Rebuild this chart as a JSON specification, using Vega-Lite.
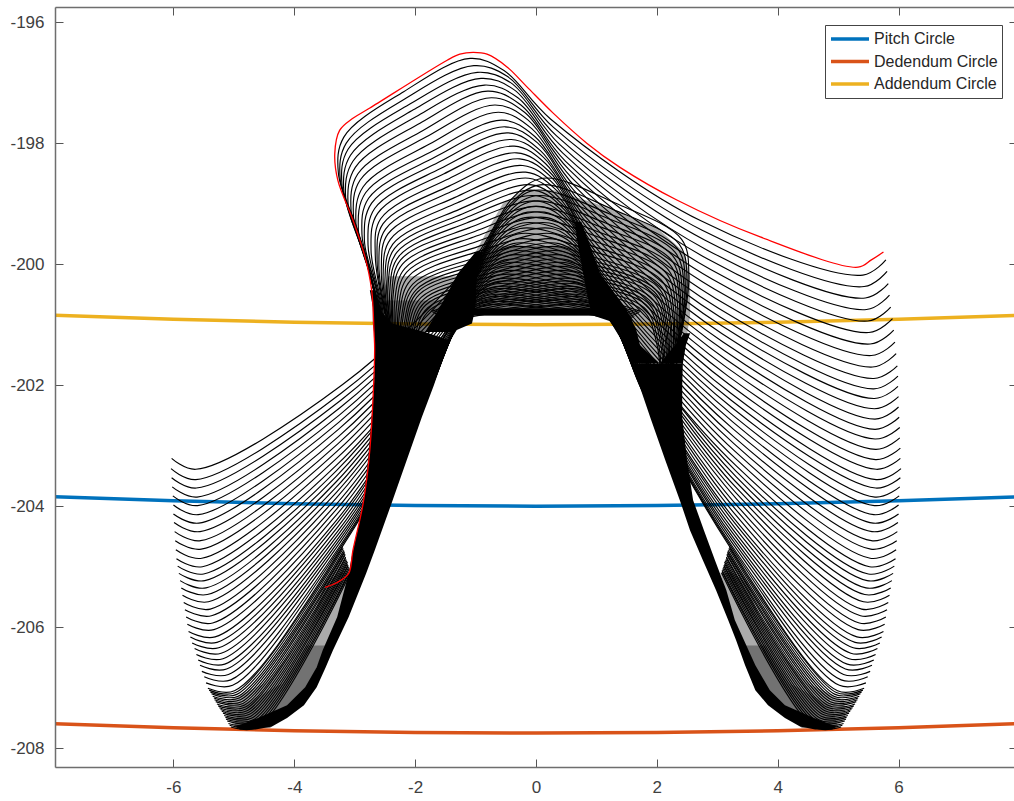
{"$schema":"https://vega.github.io/schema/vega-lite/v6.json","width":962,"height":760,"autosize":{"type":"none"},"padding":{"left":55,"top":7,"right":0,"bottom":34},"background":"white",
"datasets":{
"circles":[
{"s":"Pitch Circle","x":-7.96,"y":-203.845},{"s":"Pitch Circle","x":-6,"y":-203.91},{"s":"Pitch Circle","x":-4,"y":-203.96},{"s":"Pitch Circle","x":-2,"y":-203.99},{"s":"Pitch Circle","x":0,"y":-204},{"s":"Pitch Circle","x":2,"y":-203.99},{"s":"Pitch Circle","x":4,"y":-203.96},{"s":"Pitch Circle","x":6,"y":-203.91},{"s":"Pitch Circle","x":7.96,"y":-203.845},
{"s":"Dedendum Circle","x":-7.96,"y":-207.595},{"s":"Dedendum Circle","x":-6,"y":-207.66},{"s":"Dedendum Circle","x":-4,"y":-207.71},{"s":"Dedendum Circle","x":-2,"y":-207.74},{"s":"Dedendum Circle","x":0,"y":-207.75},{"s":"Dedendum Circle","x":2,"y":-207.74},{"s":"Dedendum Circle","x":4,"y":-207.71},{"s":"Dedendum Circle","x":6,"y":-207.66},{"s":"Dedendum Circle","x":7.96,"y":-207.595},
{"s":"Addendum Circle","x":-7.96,"y":-200.845},{"s":"Addendum Circle","x":-6,"y":-200.91},{"s":"Addendum Circle","x":-4,"y":-200.96},{"s":"Addendum Circle","x":-2,"y":-200.99},{"s":"Addendum Circle","x":0,"y":-201},{"s":"Addendum Circle","x":2,"y":-200.99},{"s":"Addendum Circle","x":4,"y":-200.96},{"s":"Addendum Circle","x":6,"y":-200.91},{"s":"Addendum Circle","x":7.96,"y":-200.845}],
"red":[{"x":5.75,"y":-199.8},{"x":5.55,"y":-199.93},{"x":5.33,"y":-200.05},{"x":3.71,"y":-199.55},{"x":2.33,"y":-198.94},{"x":1.39,"y":-198.4},{"x":0.84,"y":-198.0},{"x":0.28,"y":-197.5},{"x":-0.15,"y":-197.07},{"x":-0.48,"y":-196.74},{"x":-0.81,"y":-196.53},{"x":-1.04,"y":-196.5},{"x":-1.26,"y":-196.53},{"x":-1.47,"y":-196.63},{"x":-2.75,"y":-197.42},{"x":-3.03,"y":-197.59},{"x":-3.25,"y":-197.79},{"x":-3.33,"y":-198.17},{"x":-3.28,"y":-198.61},{"x":-3.03,"y":-199.27},{"x":-2.83,"y":-199.88},{"x":-2.72,"y":-200.43},{"x":-2.68,"y":-201.14},{"x":-2.67,"y":-201.42},{"x":-2.75,"y":-203.07},{"x":-2.86,"y":-203.95},{"x":-3.03,"y":-204.73},{"x":-3.1,"y":-205.11},{"x":-3.29,"y":-205.26},{"x":-3.49,"y":-205.34}],
"grey":[
{"g":"GL","y":-205.1,"x":-3.25,"x1":-3.05},{"g":"GL","y":-205.27,"x":-3.49,"x1":-3.1},{"g":"GL","y":-205.83,"x":-3.69,"x1":-3.25},{"g":"GL","y":-206.38,"x":-4.02,"x1":-3.5},{"g":"GL","y":-206.93,"x":-4.5,"x1":-3.75},{"g":"GL","y":-207.21,"x":-5.1,"x1":-4.0},{"g":"GL","y":-207.49,"x":-5.12,"x1":-4.2},{"g":"GL","y":-207.66,"x":-4.97,"x1":-4.4},
{"g":"GL2","y":-206.3,"x":-3.8,"x1":-3.45},{"g":"GL2","y":-206.93,"x":-4.2,"x1":-3.7},{"g":"GL2","y":-207.3,"x":-4.9,"x1":-3.95},{"g":"GL2","y":-207.66,"x":-5.0,"x1":-4.4},
{"g":"GR","y":-205.1,"x":3.05,"x1":3.25},{"g":"GR","y":-205.27,"x":3.1,"x1":3.49},{"g":"GR","y":-205.83,"x":3.25,"x1":3.69},{"g":"GR","y":-206.38,"x":3.5,"x1":4.02},{"g":"GR","y":-206.93,"x":3.75,"x1":4.5},{"g":"GR","y":-207.21,"x":4.0,"x1":5.1},{"g":"GR","y":-207.49,"x":4.2,"x1":5.12},{"g":"GR","y":-207.66,"x":4.4,"x1":4.97},
{"g":"GR2","y":-206.3,"x":3.45,"x1":3.8},{"g":"GR2","y":-206.93,"x":3.7,"x1":4.2},{"g":"GR2","y":-207.3,"x":3.95,"x1":4.9},{"g":"GR2","y":-207.66,"x":4.4,"x1":5.0},
{"g":"GD","y":-198.78,"x":-0.2,"x1":0.3},{"g":"GD","y":-199,"x":-0.55,"x1":1.0},{"g":"GD","y":-199.4,"x":-0.78,"x1":2.0},{"g":"GD","y":-199.8,"x":-1.0,"x1":2.45},{"g":"GD","y":-200.2,"x":-1.2,"x1":2.55},{"g":"GD","y":-200.85,"x":-1.34,"x1":2.55},
{"g":"GD2","y":-199.7,"x":-0.85,"x1":0.7},{"g":"GD2","y":-200.2,"x":-1.2,"x1":1.0},{"g":"GD2","y":-200.85,"x":-1.34,"x1":1.34},
{"g":"GP","y":-200.85,"x":1.34,"x1":2.55},{"g":"GP","y":-201.3,"x":1.6,"x1":2.48},{"g":"GP","y":-201.64,"x":2.05,"x1":2.43},
{"g":"GT","y":-200.2,"x":-2.45,"x1":-1.25},{"g":"GT","y":-200.7,"x":-2.6,"x1":-1.55},{"g":"GT","y":-201.12,"x":-2.68,"x1":-1.84},
{"g":"GT2","y":-200.6,"x":-2.55,"x1":-1.5},{"g":"GT2","y":-201.12,"x":-2.68,"x1":-1.84}],
"bands":[
{"g":"cap","y":-200.73,"x":-1.34,"x1":1.34},{"g":"cap","y":-200.85,"x":-1.34,"x1":1.34},
{"g":"L1","y":-200.43,"x":-2.75,"x1":-2.68},{"g":"L1","y":-200.71,"x":-2.7,"x1":-2.62},{"g":"L1","y":-200.98,"x":-2.7,"x1":-2.38},{"g":"L1","y":-201.12,"x":-2.68,"x1":-1.84},{"g":"L1","y":-201.26,"x":-2.68,"x1":-1.42},{"g":"L1","y":-201.42,"x":-2.67,"x1":-1.49},{"g":"L1","y":-202,"x":-2.68,"x1":-1.69},{"g":"L1","y":-202.53,"x":-2.72,"x1":-1.89},{"g":"L1","y":-203.24,"x":-2.78,"x1":-2.14},{"g":"L1","y":-203.98,"x":-2.86,"x1":-2.4},{"g":"L1","y":-204.73,"x":-3.03,"x1":-2.67},{"g":"L1","y":-205.11,"x":-3.1,"x1":-2.81},{"g":"L1","y":-205.83,"x":-3.29,"x1":-3.1},{"g":"L1","y":-206.38,"x":-3.53,"x1":-3.36},{"g":"L1","y":-206.66,"x":-3.63,"x1":-3.48},{"g":"L1","y":-206.99,"x":-3.82,"x1":-3.63},{"g":"L1","y":-207.29,"x":-4.12,"x1":-3.84},{"g":"L1","y":-207.5,"x":-4.6,"x1":-4.12},{"g":"L1","y":-207.64,"x":-4.97,"x1":-4.37},{"g":"L1","y":-207.69,"x":-4.9,"x1":-4.64},
{"g":"L2","y":-199.8,"x":-1.0,"x1":-0.88},{"g":"L2","y":-200.15,"x":-1.29,"x1":-0.98},{"g":"L2","y":-200.71,"x":-1.59,"x1":-1.0},{"g":"L2","y":-200.98,"x":-1.75,"x1":-1.06},{"g":"L2","y":-201.12,"x":-1.84,"x1":-1.39},
{"g":"R1","y":-199.3,"x":0.65,"x1":0.75},{"g":"R1","y":-199.6,"x":0.68,"x1":0.86},{"g":"R1","y":-200.15,"x":0.78,"x1":1.06},{"g":"R1","y":-200.71,"x":0.89,"x1":1.47},{"g":"R1","y":-200.86,"x":0.98,"x1":1.56},{"g":"R1","y":-200.98,"x":1.34,"x1":1.61},{"g":"R1","y":-201.09,"x":1.39,"x1":1.66},{"g":"R1","y":-201.34,"x":1.47,"x1":1.72},{"g":"R1","y":-201.64,"x":1.57,"x1":2.05},
{"g":"R3","y":-201.14,"x":2.45,"x1":2.55},{"g":"R3","y":-201.34,"x":2.3,"x1":2.48},{"g":"R3","y":-201.64,"x":2.05,"x1":2.43},
{"g":"R","y":-201.64,"x":1.57,"x1":2.43},{"g":"R","y":-202,"x":1.71,"x1":2.42},{"g":"R","y":-202.53,"x":1.89,"x1":2.42},{"g":"R","y":-203.24,"x":2.14,"x1":2.5},{"g":"R","y":-203.9,"x":2.38,"x1":2.6},{"g":"R","y":-204.4,"x":2.55,"x1":2.78},{"g":"R","y":-204.89,"x":2.76,"x1":2.96},{"g":"R","y":-205.39,"x":2.98,"x1":3.15},{"g":"R","y":-205.88,"x":3.18,"x1":3.29},{"g":"R","y":-206.21,"x":3.31,"x1":3.44},{"g":"R","y":-206.63,"x":3.46,"x1":3.63},{"g":"R","y":-207.04,"x":3.63,"x1":3.87},{"g":"R","y":-207.29,"x":3.84,"x1":4.12},{"g":"R","y":-207.5,"x":4.12,"x1":4.6},{"g":"R","y":-207.64,"x":4.37,"x1":4.97},{"g":"R","y":-207.69,"x":4.62,"x1":4.9}],
"curves":[
{"c":59,"x":5.79,"y":-199.93},{"c":59,"x":5.41,"y":-200.18},{"c":59,"x":2.72,"y":-199.28},{"c":59,"x":0.24,"y":-197.6},{"c":59,"x":-0.53,"y":-196.8},{"c":59,"x":-1.09,"y":-196.6},{"c":59,"x":-2.19,"y":-197.15},{"c":59,"x":-3.18,"y":-197.9},{"c":59,"x":-3.27,"y":-198.5},{"c":59,"x":-2.95,"y":-199.44},{"c":59,"x":-2.56,"y":-200.81},
{"c":58,"x":5.81,"y":-200.12},{"c":58,"x":5.43,"y":-200.37},{"c":58,"x":2.75,"y":-199.44},{"c":58,"x":0.29,"y":-197.74},{"c":58,"x":-0.47,"y":-196.9},{"c":58,"x":-1.03,"y":-196.72},{"c":58,"x":-2.14,"y":-197.25},{"c":58,"x":-3.14,"y":-198.0},{"c":58,"x":-3.24,"y":-198.6},{"c":58,"x":-2.92,"y":-199.55},{"c":58,"x":-2.54,"y":-200.92},
{"c":57,"x":5.83,"y":-200.32},{"c":57,"x":5.45,"y":-200.56},{"c":57,"x":2.79,"y":-199.6},{"c":57,"x":0.34,"y":-197.88},{"c":57,"x":-0.42,"y":-197.0},{"c":57,"x":-0.97,"y":-196.83},{"c":57,"x":-2.08,"y":-197.35},{"c":57,"x":-3.11,"y":-198.1},{"c":57,"x":-3.21,"y":-198.7},{"c":57,"x":-2.89,"y":-199.65},{"c":57,"x":-2.53,"y":-201.03},
{"c":56,"x":5.85,"y":-200.51},{"c":56,"x":5.47,"y":-200.75},{"c":56,"x":2.82,"y":-199.76},{"c":56,"x":0.39,"y":-198.02},{"c":56,"x":-0.36,"y":-197.12},{"c":56,"x":-0.91,"y":-196.93},{"c":56,"x":-2.03,"y":-197.45},{"c":56,"x":-3.07,"y":-198.2},{"c":56,"x":-3.18,"y":-198.8},{"c":56,"x":-2.86,"y":-199.76},{"c":56,"x":-2.51,"y":-201.14},
{"c":55,"x":5.87,"y":-200.71},{"c":55,"x":5.49,"y":-200.94},{"c":55,"x":2.85,"y":-199.92},{"c":55,"x":0.44,"y":-198.16},{"c":55,"x":-0.3,"y":-197.25},{"c":55,"x":-0.85,"y":-197.04},{"c":55,"x":-1.98,"y":-197.56},{"c":55,"x":-3.03,"y":-198.3},{"c":55,"x":-3.15,"y":-198.9},{"c":55,"x":-2.83,"y":-199.87},{"c":55,"x":-2.49,"y":-201.25},
{"c":54,"x":5.9,"y":-200.9},{"c":54,"x":5.51,"y":-201.13},{"c":54,"x":2.89,"y":-200.09},{"c":54,"x":0.49,"y":-198.3},{"c":54,"x":-0.25,"y":-197.37},{"c":54,"x":-0.8,"y":-197.14},{"c":54,"x":-1.92,"y":-197.67},{"c":54,"x":-2.99,"y":-198.4},{"c":54,"x":-3.11,"y":-199.01},{"c":54,"x":-2.8,"y":-199.98},{"c":54,"x":-2.48,"y":-201.37},
{"c":53,"x":5.92,"y":-201.09},{"c":53,"x":5.53,"y":-201.32},{"c":53,"x":2.92,"y":-200.25},{"c":53,"x":0.54,"y":-198.43},{"c":53,"x":-0.19,"y":-197.49},{"c":53,"x":-0.74,"y":-197.25},{"c":53,"x":-1.87,"y":-197.79},{"c":53,"x":-2.95,"y":-198.51},{"c":53,"x":-3.06,"y":-199.12},{"c":53,"x":-2.77,"y":-200.08},{"c":53,"x":-2.46,"y":-201.48},
{"c":52,"x":5.94,"y":-201.29},{"c":52,"x":5.55,"y":-201.51},{"c":52,"x":2.95,"y":-200.41},{"c":52,"x":0.59,"y":-198.57},{"c":52,"x":-0.13,"y":-197.62},{"c":52,"x":-0.68,"y":-197.37},{"c":52,"x":-1.82,"y":-197.9},{"c":52,"x":-2.91,"y":-198.61},{"c":52,"x":-3.02,"y":-199.22},{"c":52,"x":-2.74,"y":-200.19},{"c":52,"x":-2.44,"y":-201.59},
{"c":51,"x":5.96,"y":-201.48},{"c":51,"x":5.57,"y":-201.7},{"c":51,"x":2.98,"y":-200.57},{"c":51,"x":0.64,"y":-198.71},{"c":51,"x":-0.07,"y":-197.76},{"c":51,"x":-0.62,"y":-197.49},{"c":51,"x":-1.77,"y":-198.02},{"c":51,"x":-2.86,"y":-198.72},{"c":51,"x":-2.98,"y":-199.33},{"c":51,"x":-2.71,"y":-200.3},{"c":51,"x":-2.42,"y":-201.7},
{"c":50,"x":5.98,"y":-201.68},{"c":50,"x":5.59,"y":-201.89},{"c":50,"x":3.02,"y":-200.73},{"c":50,"x":0.69,"y":-198.85},{"c":50,"x":-0.02,"y":-197.89},{"c":50,"x":-0.56,"y":-197.62},{"c":50,"x":-1.71,"y":-198.13},{"c":50,"x":-2.82,"y":-198.82},{"c":50,"x":-2.94,"y":-199.43},{"c":50,"x":-2.68,"y":-200.4},{"c":50,"x":-2.41,"y":-201.81},
{"c":49,"x":5.99,"y":-201.85},{"c":49,"x":5.59,"y":-202.06},{"c":49,"x":3.04,"y":-200.87},{"c":49,"x":0.73,"y":-198.97},{"c":49,"x":0.03,"y":-198},{"c":49,"x":-0.51,"y":-197.73},{"c":49,"x":-1.67,"y":-198.23},{"c":49,"x":-2.77,"y":-198.91},{"c":49,"x":-2.88,"y":-199.51},{"c":49,"x":-2.63,"y":-200.49},{"c":49,"x":-2.4,"y":-201.9},
{"c":48,"x":5.99,"y":-202.02},{"c":48,"x":5.6,"y":-202.22},{"c":48,"x":3.06,"y":-201.01},{"c":48,"x":0.77,"y":-199.09},{"c":48,"x":0.07,"y":-198.12},{"c":48,"x":-0.46,"y":-197.83},{"c":48,"x":-1.62,"y":-198.32},{"c":48,"x":-2.72,"y":-198.99},{"c":48,"x":-2.84,"y":-199.6},{"c":48,"x":-2.6,"y":-200.57},{"c":48,"x":-2.39,"y":-201.98},
{"c":47,"x":6,"y":-202.19},{"c":47,"x":5.6,"y":-202.39},{"c":47,"x":3.08,"y":-201.15},{"c":47,"x":0.81,"y":-199.21},{"c":47,"x":0.12,"y":-198.23},{"c":47,"x":-0.41,"y":-197.94},{"c":47,"x":-1.58,"y":-198.42},{"c":47,"x":-2.67,"y":-199.08},{"c":47,"x":-2.78,"y":-199.68},{"c":47,"x":-2.57,"y":-200.66},{"c":47,"x":-2.38,"y":-202.07},
{"c":46,"x":6,"y":-202.36},{"c":46,"x":5.61,"y":-202.56},{"c":46,"x":3.1,"y":-201.29},{"c":46,"x":0.85,"y":-199.33},{"c":46,"x":0.16,"y":-198.34},{"c":46,"x":-0.36,"y":-198.05},{"c":46,"x":-1.53,"y":-198.51},{"c":46,"x":-2.62,"y":-199.16},{"c":46,"x":-2.73,"y":-199.76},{"c":46,"x":-2.54,"y":-200.74},{"c":46,"x":-2.37,"y":-202.16},
{"c":45,"x":6.01,"y":-202.53},{"c":45,"x":5.61,"y":-202.73},{"c":45,"x":3.12,"y":-201.43},{"c":45,"x":0.89,"y":-199.45},{"c":45,"x":0.21,"y":-198.46},{"c":45,"x":-0.32,"y":-198.16},{"c":45,"x":-1.49,"y":-198.61},{"c":45,"x":-2.57,"y":-199.25},{"c":45,"x":-2.66,"y":-199.85},{"c":45,"x":-2.5,"y":-200.83},
{"c":44,"x":6.02,"y":-202.7},{"c":44,"x":5.61,"y":-202.89},{"c":44,"x":3.14,"y":-201.57},{"c":44,"x":0.92,"y":-199.57},{"c":44,"x":0.26,"y":-198.57},{"c":44,"x":-0.27,"y":-198.26},{"c":44,"x":-1.44,"y":-198.71},{"c":44,"x":-2.53,"y":-199.33},{"c":44,"x":-2.63,"y":-199.93},{"c":44,"x":-2.47,"y":-200.92},
{"c":43,"x":6.02,"y":-202.87},{"c":43,"x":5.62,"y":-203.06},{"c":43,"x":3.16,"y":-201.71},{"c":43,"x":0.96,"y":-199.69},{"c":43,"x":0.3,"y":-198.68},{"c":43,"x":-0.22,"y":-198.37},{"c":43,"x":-1.4,"y":-198.8},{"c":43,"x":-2.49,"y":-199.42},{"c":43,"x":-2.6,"y":-200.01},{"c":43,"x":-2.45,"y":-201},
{"c":42,"x":6.03,"y":-203.04},{"c":42,"x":5.62,"y":-203.23},{"c":42,"x":3.18,"y":-201.85},{"c":42,"x":1,"y":-199.81},{"c":42,"x":0.35,"y":-198.79},{"c":42,"x":-0.17,"y":-198.48},{"c":42,"x":-1.35,"y":-198.9},{"c":42,"x":-2.45,"y":-199.5},{"c":42,"x":-2.56,"y":-200.09},{"c":42,"x":-2.43,"y":-201.09},
{"c":41,"x":6.03,"y":-203.21},{"c":41,"x":5.63,"y":-203.39},{"c":41,"x":3.2,"y":-201.99},{"c":41,"x":1.04,"y":-199.93},{"c":41,"x":0.39,"y":-198.91},{"c":41,"x":-0.12,"y":-198.58},{"c":41,"x":-1.31,"y":-198.99},{"c":41,"x":-2.41,"y":-199.59},{"c":41,"x":-2.53,"y":-200.18},{"c":41,"x":-2.4,"y":-201.17},
{"c":40,"x":6.04,"y":-203.38},{"c":40,"x":5.63,"y":-203.56},{"c":40,"x":3.22,"y":-202.13},{"c":40,"x":1.08,"y":-200.05},{"c":40,"x":0.44,"y":-199.02},{"c":40,"x":-0.07,"y":-198.69},{"c":40,"x":-1.26,"y":-199.09},{"c":40,"x":-2.37,"y":-199.67},{"c":40,"x":-2.5,"y":-200.26},{"c":40,"x":-2.38,"y":-201.26},
{"c":39,"x":6.03,"y":-203.53},{"c":39,"x":5.62,"y":-203.7},{"c":39,"x":3.23,"y":-202.25},{"c":39,"x":1.11,"y":-200.15},{"c":39,"x":0.48,"y":-199.11},{"c":39,"x":-0.03,"y":-198.78},{"c":39,"x":-1.22,"y":-199.17},{"c":39,"x":-2.34,"y":-199.74},{"c":39,"x":-2.47,"y":-200.32},{"c":39,"x":-2.36,"y":-201.33},
{"c":38,"x":6.02,"y":-203.68},{"c":38,"x":5.61,"y":-203.85},{"c":38,"x":3.24,"y":-202.37},{"c":38,"x":1.14,"y":-200.24},{"c":38,"x":0.52,"y":-199.21},{"c":38,"x":0.01,"y":-198.87},{"c":38,"x":-1.18,"y":-199.24},{"c":38,"x":-2.3,"y":-199.8},{"c":38,"x":-2.45,"y":-200.39},{"c":38,"x":-2.35,"y":-201.39},
{"c":37,"x":6.01,"y":-203.83},{"c":37,"x":5.6,"y":-203.99},{"c":37,"x":3.25,"y":-202.49},{"c":37,"x":1.17,"y":-200.34},{"c":37,"x":0.56,"y":-199.3},{"c":37,"x":0.05,"y":-198.96},{"c":37,"x":-1.15,"y":-199.32},{"c":37,"x":-2.27,"y":-199.87},{"c":37,"x":-2.42,"y":-200.45},{"c":37,"x":-2.33,"y":-201.46},
{"c":36,"x":6,"y":-203.98},{"c":36,"x":5.59,"y":-204.14},{"c":36,"x":3.26,"y":-202.61},{"c":36,"x":1.2,"y":-200.43},{"c":36,"x":0.6,"y":-199.4},{"c":36,"x":0.09,"y":-199.05},{"c":36,"x":-1.11,"y":-199.4},{"c":36,"x":-2.24,"y":-199.93},{"c":36,"x":-2.39,"y":-200.52},{"c":36,"x":-2.32,"y":-201.52},
{"c":35,"x":6,"y":-204.13},{"c":35,"x":5.58,"y":-204.28},{"c":35,"x":3.27,"y":-202.73},{"c":35,"x":1.23,"y":-200.53},{"c":35,"x":0.64,"y":-199.49},{"c":35,"x":0.14,"y":-199.14},{"c":35,"x":-1.07,"y":-199.48},{"c":35,"x":-2.21,"y":-200},{"c":35,"x":-2.37,"y":-200.58},{"c":35,"x":-2.3,"y":-201.59},
{"c":34,"x":5.99,"y":-204.27},{"c":34,"x":5.56,"y":-204.42},{"c":34,"x":3.27,"y":-202.85},{"c":34,"x":1.26,"y":-200.62},{"c":34,"x":0.67,"y":-199.58},{"c":34,"x":0.18,"y":-199.23},{"c":34,"x":-1.03,"y":-199.55},{"c":34,"x":-2.17,"y":-200.07},{"c":34,"x":-2.34,"y":-200.64},{"c":34,"x":-2.28,"y":-201.65},
{"c":33,"x":5.98,"y":-204.42},{"c":33,"x":5.55,"y":-204.57},{"c":33,"x":3.28,"y":-202.97},{"c":33,"x":1.29,"y":-200.72},{"c":33,"x":0.71,"y":-199.68},{"c":33,"x":0.22,"y":-199.32},{"c":33,"x":-0.99,"y":-199.63},{"c":33,"x":-2.14,"y":-200.13},{"c":33,"x":-2.31,"y":-200.71},{"c":33,"x":-2.27,"y":-201.72},
{"c":32,"x":5.97,"y":-204.57},{"c":32,"x":5.54,"y":-204.71},{"c":32,"x":3.29,"y":-203.09},{"c":32,"x":1.32,"y":-200.81},{"c":32,"x":0.75,"y":-199.77},{"c":32,"x":0.26,"y":-199.41},{"c":32,"x":-0.96,"y":-199.71},{"c":32,"x":-2.11,"y":-200.2},{"c":32,"x":-2.28,"y":-200.77},{"c":32,"x":-2.25,"y":-201.78},
{"c":31,"x":5.96,"y":-204.72},{"c":31,"x":5.53,"y":-204.86},{"c":31,"x":3.3,"y":-203.21},{"c":31,"x":1.35,"y":-200.91},{"c":31,"x":0.79,"y":-199.87},{"c":31,"x":0.3,"y":-199.5},{"c":31,"x":-0.92,"y":-199.78},{"c":31,"x":-2.07,"y":-200.26},{"c":31,"x":-2.26,"y":-200.84},{"c":31,"x":-2.24,"y":-201.85},
{"c":30,"x":5.95,"y":-204.87},{"c":30,"x":5.52,"y":-205},{"c":30,"x":3.31,"y":-203.33},{"c":30,"x":1.38,"y":-201},{"c":30,"x":0.83,"y":-199.96},{"c":30,"x":0.34,"y":-199.59},{"c":30,"x":-0.88,"y":-199.86},{"c":30,"x":-2.04,"y":-200.33},{"c":30,"x":-2.23,"y":-200.9},{"c":30,"x":-2.22,"y":-201.91},
{"c":29,"x":5.93,"y":-204.99},{"c":29,"x":5.5,"y":-205.12},{"c":29,"x":3.31,"y":-203.42},{"c":29,"x":1.4,"y":-200.97},{"c":29,"x":0.86,"y":-200.03},{"c":29,"x":0.38,"y":-199.66},{"c":29,"x":-0.85,"y":-199.92},{"c":29,"x":-2.01,"y":-200.37},{"c":29,"x":-2.21,"y":-200.94},{"c":29,"x":-2.21,"y":-201.95},
{"c":28,"x":5.91,"y":-205.11},{"c":28,"x":5.48,"y":-205.23},{"c":28,"x":3.31,"y":-203.51},{"c":28,"x":1.42,"y":-201.04},{"c":28,"x":0.89,"y":-200.1},{"c":28,"x":0.41,"y":-199.72},{"c":28,"x":-0.81,"y":-199.97},{"c":28,"x":-1.98,"y":-200.42},{"c":28,"x":-2.18,"y":-200.98},{"c":28,"x":-2.19,"y":-201.99},
{"c":27,"x":5.89,"y":-205.23},{"c":27,"x":5.46,"y":-205.35},{"c":27,"x":3.31,"y":-203.6},{"c":27,"x":1.45,"y":-201.11},{"c":27,"x":0.92,"y":-200.18},{"c":27,"x":0.45,"y":-199.79},{"c":27,"x":-0.78,"y":-200.03},{"c":27,"x":-1.96,"y":-200.46},{"c":27,"x":-2.16,"y":-201.03},{"c":27,"x":-2.18,"y":-202.03},
{"c":26,"x":5.87,"y":-205.35},{"c":26,"x":5.44,"y":-205.46},{"c":26,"x":3.31,"y":-203.69},{"c":26,"x":1.47,"y":-201.18},{"c":26,"x":0.95,"y":-200.25},{"c":26,"x":0.48,"y":-199.86},{"c":26,"x":-0.75,"y":-200.08},{"c":26,"x":-1.93,"y":-200.5},{"c":26,"x":-2.14,"y":-201.07},{"c":26,"x":-2.16,"y":-202.07},
{"c":25,"x":5.85,"y":-205.47},{"c":25,"x":5.42,"y":-205.58},{"c":25,"x":3.31,"y":-203.78},{"c":25,"x":1.49,"y":-201.25},{"c":25,"x":0.99,"y":-200.32},{"c":25,"x":0.52,"y":-199.93},{"c":25,"x":-0.72,"y":-200.14},{"c":25,"x":-1.9,"y":-200.55},{"c":25,"x":-2.12,"y":-201.11},{"c":25,"x":-2.15,"y":-202.11},
{"c":24,"x":5.83,"y":-205.59},{"c":24,"x":5.39,"y":-205.7},{"c":24,"x":3.31,"y":-203.87},{"c":24,"x":1.51,"y":-201.32},{"c":24,"x":1.02,"y":-200.39},{"c":24,"x":0.56,"y":-199.99},{"c":24,"x":-0.68,"y":-200.19},{"c":24,"x":-1.87,"y":-200.59},{"c":24,"x":-2.09,"y":-201.15},{"c":24,"x":-2.14,"y":-202.15},
{"c":23,"x":5.81,"y":-205.71},{"c":23,"x":5.37,"y":-205.81},{"c":23,"x":3.3,"y":-203.96},{"c":23,"x":1.53,"y":-201.39},{"c":23,"x":1.05,"y":-200.46},{"c":23,"x":0.59,"y":-200.06},{"c":23,"x":-0.65,"y":-200.25},{"c":23,"x":-1.84,"y":-200.63},{"c":23,"x":-2.07,"y":-201.19},{"c":23,"x":-2.12,"y":-202.19},
{"c":22,"x":5.79,"y":-205.83},{"c":22,"x":5.35,"y":-205.93},{"c":22,"x":3.3,"y":-204.05},{"c":22,"x":1.56,"y":-201.46},{"c":22,"x":1.08,"y":-200.54},{"c":22,"x":0.63,"y":-200.13},{"c":22,"x":-0.62,"y":-200.3},{"c":22,"x":-1.82,"y":-200.67},{"c":22,"x":-2.05,"y":-201.24},{"c":22,"x":-2.11,"y":-202.23},
{"c":21,"x":5.77,"y":-205.95},{"c":21,"x":5.33,"y":-206.04},{"c":21,"x":3.3,"y":-204.14},{"c":21,"x":1.58,"y":-201.53},{"c":21,"x":1.11,"y":-200.61},{"c":21,"x":0.66,"y":-200.19},{"c":21,"x":-0.58,"y":-200.36},{"c":21,"x":-1.79,"y":-200.72},{"c":21,"x":-2.02,"y":-201.28},{"c":21,"x":-2.09,"y":-202.27},
{"c":20,"x":5.75,"y":-206.07},{"c":20,"x":5.31,"y":-206.16},{"c":20,"x":3.3,"y":-204.23},{"c":20,"x":1.6,"y":-201.6},{"c":20,"x":1.14,"y":-200.68},{"c":20,"x":0.7,"y":-200.26},{"c":20,"x":-0.55,"y":-200.41},{"c":20,"x":-1.76,"y":-200.76},{"c":20,"x":-2,"y":-201.32},{"c":20,"x":-2.08,"y":-202.31},
{"c":19,"x":5.72,"y":-206.16},{"c":19,"x":5.28,"y":-206.25},{"c":19,"x":3.29,"y":-204.28},{"c":19,"x":1.62,"y":-201.65},{"c":19,"x":1.16,"y":-200.73},{"c":19,"x":0.73,"y":-200.31},{"c":19,"x":-0.52,"y":-200.44},{"c":19,"x":-1.73,"y":-200.78},
{"c":18,"x":5.69,"y":-206.26},{"c":18,"x":5.25,"y":-206.34},{"c":18,"x":3.28,"y":-204.34},{"c":18,"x":1.63,"y":-201.7},{"c":18,"x":1.19,"y":-200.78},{"c":18,"x":0.76,"y":-200.35},{"c":18,"x":-0.49,"y":-200.48},{"c":18,"x":-1.71,"y":-200.8},
{"c":17,"x":5.65,"y":-206.35},{"c":17,"x":5.21,"y":-206.43},{"c":17,"x":3.27,"y":-204.4},{"c":17,"x":1.65,"y":-201.75},{"c":17,"x":1.21,"y":-200.83},{"c":17,"x":0.78,"y":-200.4},{"c":17,"x":-0.47,"y":-200.51},{"c":17,"x":-1.68,"y":-200.82},
{"c":16,"x":5.62,"y":-206.45},{"c":16,"x":5.18,"y":-206.52},{"c":16,"x":3.26,"y":-204.45},{"c":16,"x":1.66,"y":-201.8},{"c":16,"x":1.24,"y":-200.88},{"c":16,"x":0.81,"y":-200.44},{"c":16,"x":-0.44,"y":-200.54},{"c":16,"x":-1.66,"y":-200.84},
{"c":15,"x":5.59,"y":-206.54},{"c":15,"x":5.15,"y":-206.61},{"c":15,"x":3.25,"y":-204.5},{"c":15,"x":1.68,"y":-201.85},{"c":15,"x":1.26,"y":-200.93},{"c":15,"x":0.84,"y":-200.49},{"c":15,"x":-0.41,"y":-200.58},{"c":15,"x":-1.63,"y":-200.86},
{"c":14,"x":5.56,"y":-206.63},{"c":14,"x":5.12,"y":-206.69},{"c":14,"x":3.24,"y":-204.54},{"c":14,"x":1.7,"y":-201.9},{"c":14,"x":1.28,"y":-200.98},{"c":14,"x":0.87,"y":-200.54},{"c":14,"x":-0.38,"y":-200.61},{"c":14,"x":-1.6,"y":-200.88},
{"c":13,"x":5.53,"y":-206.73},{"c":13,"x":5.09,"y":-206.78},{"c":13,"x":3.23,"y":-204.58},{"c":13,"x":1.71,"y":-201.95},{"c":13,"x":1.31,"y":-201.03},{"c":13,"x":0.9,"y":-200.58},{"c":13,"x":-0.35,"y":-200.64},{"c":13,"x":-1.58,"y":-200.9},
{"c":12,"x":5.49,"y":-206.82},{"c":12,"x":5.05,"y":-206.87},{"c":12,"x":3.22,"y":-204.62},{"c":12,"x":1.73,"y":-202},{"c":12,"x":1.33,"y":-201.08},{"c":12,"x":0.92,"y":-200.63},{"c":12,"x":-0.33,"y":-200.67},{"c":12,"x":-1.55,"y":-200.92},
{"c":11,"x":5.46,"y":-206.92},{"c":11,"x":5.02,"y":-206.96},{"c":11,"x":3.21,"y":-204.64},{"c":11,"x":1.74,"y":-202.05},{"c":11,"x":1.36,"y":-201.13},{"c":11,"x":0.95,"y":-200.67},{"c":11,"x":-0.3,"y":-200.71},{"c":11,"x":-1.53,"y":-200.94},
{"c":10,"x":5.43,"y":-207.01},{"c":10,"x":4.99,"y":-207.05},{"c":10,"x":3.2,"y":-204.66},{"c":10,"x":1.76,"y":-202.1},{"c":10,"x":1.38,"y":-201.18},{"c":10,"x":0.98,"y":-200.72},{"c":10,"x":-0.27,"y":-200.74},{"c":10,"x":-1.5,"y":-200.96},
{"c":9,"x":5.39,"y":-207.07},{"c":9,"x":4.95,"y":-207.11},{"c":9,"x":3.19,"y":-204.7},
{"c":8,"x":5.35,"y":-207.14},{"c":8,"x":4.91,"y":-207.17},{"c":8,"x":3.17,"y":-204.75},
{"c":7,"x":5.32,"y":-207.2},{"c":7,"x":4.87,"y":-207.23},{"c":7,"x":3.16,"y":-204.79},
{"c":6,"x":5.28,"y":-207.27},{"c":6,"x":4.83,"y":-207.29},{"c":6,"x":3.15,"y":-204.84},
{"c":5,"x":5.24,"y":-207.33},{"c":5,"x":4.8,"y":-207.35},{"c":5,"x":3.14,"y":-204.88},
{"c":4,"x":5.2,"y":-207.39},{"c":4,"x":4.76,"y":-207.41},{"c":4,"x":3.12,"y":-204.92},
{"c":3,"x":5.16,"y":-207.46},{"c":3,"x":4.72,"y":-207.47},{"c":3,"x":3.11,"y":-204.97},
{"c":2,"x":5.13,"y":-207.52},{"c":2,"x":4.68,"y":-207.53},{"c":2,"x":3.1,"y":-205.01},
{"c":1,"x":5.09,"y":-207.59},{"c":1,"x":4.64,"y":-207.59},{"c":1,"x":3.08,"y":-205.06},
{"c":0,"x":5.05,"y":-207.65},{"c":0,"x":4.6,"y":-207.65},{"c":0,"x":3.07,"y":-205.1},
{"c":201,"x":5.41,"y":-207.04},{"c":201,"x":4.97,"y":-207.08},{"c":201,"x":3.2,"y":-204.68},
{"c":202,"x":5.37,"y":-207.1},{"c":202,"x":4.93,"y":-207.14},{"c":202,"x":3.18,"y":-204.73},
{"c":203,"x":5.33,"y":-207.17},{"c":203,"x":4.89,"y":-207.2},{"c":203,"x":3.17,"y":-204.77},
{"c":204,"x":5.3,"y":-207.23},{"c":204,"x":4.85,"y":-207.26},{"c":204,"x":3.16,"y":-204.81},
{"c":205,"x":5.26,"y":-207.3},{"c":205,"x":4.81,"y":-207.32},{"c":205,"x":3.15,"y":-204.86},
{"c":206,"x":5.22,"y":-207.36},{"c":206,"x":4.78,"y":-207.38},{"c":206,"x":3.13,"y":-204.9},
{"c":207,"x":5.18,"y":-207.42},{"c":207,"x":4.74,"y":-207.44},{"c":207,"x":3.12,"y":-204.95},
{"c":208,"x":5.14,"y":-207.49},{"c":208,"x":4.7,"y":-207.5},{"c":208,"x":3.11,"y":-204.99},
{"c":209,"x":5.11,"y":-207.55},{"c":209,"x":4.66,"y":-207.56},{"c":209,"x":3.09,"y":-205.03},
{"c":210,"x":5.07,"y":-207.62},{"c":210,"x":4.62,"y":-207.62},{"c":210,"x":3.08,"y":-205.08},
{"c":301,"x":-5.41,"y":-207.04},{"c":301,"x":-4.97,"y":-207.08},{"c":301,"x":-3.2,"y":-204.68},
{"c":302,"x":-5.37,"y":-207.1},{"c":302,"x":-4.93,"y":-207.14},{"c":302,"x":-3.18,"y":-204.73},
{"c":303,"x":-5.33,"y":-207.17},{"c":303,"x":-4.89,"y":-207.2},{"c":303,"x":-3.17,"y":-204.77},
{"c":304,"x":-5.3,"y":-207.23},{"c":304,"x":-4.85,"y":-207.26},{"c":304,"x":-3.16,"y":-204.81},
{"c":305,"x":-5.26,"y":-207.3},{"c":305,"x":-4.81,"y":-207.32},{"c":305,"x":-3.15,"y":-204.86},
{"c":306,"x":-5.22,"y":-207.36},{"c":306,"x":-4.78,"y":-207.38},{"c":306,"x":-3.13,"y":-204.9},
{"c":307,"x":-5.18,"y":-207.42},{"c":307,"x":-4.74,"y":-207.44},{"c":307,"x":-3.12,"y":-204.95},
{"c":308,"x":-5.14,"y":-207.49},{"c":308,"x":-4.7,"y":-207.5},{"c":308,"x":-3.11,"y":-204.99},
{"c":309,"x":-5.11,"y":-207.55},{"c":309,"x":-4.66,"y":-207.56},{"c":309,"x":-3.09,"y":-205.03},
{"c":310,"x":-5.07,"y":-207.62},{"c":310,"x":-4.62,"y":-207.62},{"c":310,"x":-3.08,"y":-205.08},
{"c":141,"x":-6.03,"y":-203.21},{"c":141,"x":-5.63,"y":-203.39},{"c":141,"x":-3.2,"y":-201.99},{"c":141,"x":-1.04,"y":-199.93},{"c":141,"x":-0.39,"y":-198.91},{"c":141,"x":0.12,"y":-198.58},{"c":141,"x":1.31,"y":-198.99},{"c":141,"x":2.41,"y":-199.59},{"c":141,"x":2.53,"y":-200.18},{"c":141,"x":2.4,"y":-201.17},
{"c":140,"x":-6.04,"y":-203.38},{"c":140,"x":-5.63,"y":-203.56},{"c":140,"x":-3.22,"y":-202.13},{"c":140,"x":-1.08,"y":-200.05},{"c":140,"x":-0.44,"y":-199.02},{"c":140,"x":0.07,"y":-198.69},{"c":140,"x":1.26,"y":-199.09},{"c":140,"x":2.37,"y":-199.67},{"c":140,"x":2.5,"y":-200.26},{"c":140,"x":2.38,"y":-201.26},
{"c":139,"x":-6.03,"y":-203.53},{"c":139,"x":-5.62,"y":-203.7},{"c":139,"x":-3.23,"y":-202.25},{"c":139,"x":-1.11,"y":-200.15},{"c":139,"x":-0.48,"y":-199.11},{"c":139,"x":-0.03,"y":-198.78},{"c":139,"x":1.22,"y":-199.17},{"c":139,"x":2.34,"y":-199.74},{"c":139,"x":2.47,"y":-200.32},{"c":139,"x":2.36,"y":-201.33},
{"c":138,"x":-6.02,"y":-203.68},{"c":138,"x":-5.61,"y":-203.85},{"c":138,"x":-3.24,"y":-202.37},{"c":138,"x":-1.14,"y":-200.24},{"c":138,"x":-0.52,"y":-199.21},{"c":138,"x":-0.01,"y":-198.87},{"c":138,"x":1.18,"y":-199.24},{"c":138,"x":2.3,"y":-199.8},{"c":138,"x":2.45,"y":-200.39},{"c":138,"x":2.35,"y":-201.39},
{"c":137,"x":-6.01,"y":-203.83},{"c":137,"x":-5.6,"y":-203.99},{"c":137,"x":-3.25,"y":-202.49},{"c":137,"x":-1.17,"y":-200.34},{"c":137,"x":-0.56,"y":-199.3},{"c":137,"x":-0.05,"y":-198.96},{"c":137,"x":1.15,"y":-199.32},{"c":137,"x":2.27,"y":-199.87},{"c":137,"x":2.42,"y":-200.45},{"c":137,"x":2.33,"y":-201.46},
{"c":136,"x":-6,"y":-203.98},{"c":136,"x":-5.59,"y":-204.14},{"c":136,"x":-3.26,"y":-202.61},{"c":136,"x":-1.2,"y":-200.43},{"c":136,"x":-0.6,"y":-199.4},{"c":136,"x":-0.09,"y":-199.05},{"c":136,"x":1.11,"y":-199.4},{"c":136,"x":2.24,"y":-199.93},{"c":136,"x":2.39,"y":-200.52},{"c":136,"x":2.32,"y":-201.52},
{"c":135,"x":-6,"y":-204.13},{"c":135,"x":-5.58,"y":-204.28},{"c":135,"x":-3.27,"y":-202.73},{"c":135,"x":-1.23,"y":-200.53},{"c":135,"x":-0.64,"y":-199.49},{"c":135,"x":-0.14,"y":-199.14},{"c":135,"x":1.07,"y":-199.48},{"c":135,"x":2.21,"y":-200},{"c":135,"x":2.37,"y":-200.58},{"c":135,"x":2.3,"y":-201.59},
{"c":134,"x":-5.99,"y":-204.27},{"c":134,"x":-5.56,"y":-204.42},{"c":134,"x":-3.27,"y":-202.85},{"c":134,"x":-1.26,"y":-200.62},{"c":134,"x":-0.67,"y":-199.58},{"c":134,"x":-0.18,"y":-199.23},{"c":134,"x":1.03,"y":-199.55},{"c":134,"x":2.17,"y":-200.07},{"c":134,"x":2.34,"y":-200.64},{"c":134,"x":2.28,"y":-201.65},
{"c":133,"x":-5.98,"y":-204.42},{"c":133,"x":-5.55,"y":-204.57},{"c":133,"x":-3.28,"y":-202.97},{"c":133,"x":-1.29,"y":-200.72},{"c":133,"x":-0.71,"y":-199.68},{"c":133,"x":-0.22,"y":-199.32},{"c":133,"x":0.99,"y":-199.63},{"c":133,"x":2.14,"y":-200.13},{"c":133,"x":2.31,"y":-200.71},{"c":133,"x":2.27,"y":-201.72},
{"c":132,"x":-5.97,"y":-204.57},{"c":132,"x":-5.54,"y":-204.71},{"c":132,"x":-3.29,"y":-203.09},{"c":132,"x":-1.32,"y":-200.81},{"c":132,"x":-0.75,"y":-199.77},{"c":132,"x":-0.26,"y":-199.41},{"c":132,"x":0.96,"y":-199.71},{"c":132,"x":2.11,"y":-200.2},{"c":132,"x":2.28,"y":-200.77},{"c":132,"x":2.25,"y":-201.78},
{"c":131,"x":-5.96,"y":-204.72},{"c":131,"x":-5.53,"y":-204.86},{"c":131,"x":-3.3,"y":-203.21},{"c":131,"x":-1.35,"y":-200.91},{"c":131,"x":-0.79,"y":-199.87},{"c":131,"x":-0.3,"y":-199.5},{"c":131,"x":0.92,"y":-199.78},{"c":131,"x":2.07,"y":-200.26},{"c":131,"x":2.26,"y":-200.84},{"c":131,"x":2.24,"y":-201.85},
{"c":130,"x":-5.95,"y":-204.87},{"c":130,"x":-5.52,"y":-205},{"c":130,"x":-3.31,"y":-203.33},{"c":130,"x":-1.38,"y":-201},{"c":130,"x":-0.83,"y":-199.96},{"c":130,"x":-0.34,"y":-199.59},{"c":130,"x":0.88,"y":-199.86},{"c":130,"x":2.04,"y":-200.33},{"c":130,"x":2.23,"y":-200.9},{"c":130,"x":2.22,"y":-201.91},
{"c":129,"x":-5.93,"y":-204.99},{"c":129,"x":-5.5,"y":-205.12},{"c":129,"x":-3.31,"y":-203.42},{"c":129,"x":-1.4,"y":-200.97},{"c":129,"x":-0.86,"y":-200.03},{"c":129,"x":-0.38,"y":-199.66},{"c":129,"x":0.85,"y":-199.92},{"c":129,"x":2.01,"y":-200.37},{"c":129,"x":2.21,"y":-200.94},{"c":129,"x":2.21,"y":-201.95},
{"c":128,"x":-5.91,"y":-205.11},{"c":128,"x":-5.48,"y":-205.23},{"c":128,"x":-3.31,"y":-203.51},{"c":128,"x":-1.42,"y":-201.04},{"c":128,"x":-0.89,"y":-200.1},{"c":128,"x":-0.41,"y":-199.72},{"c":128,"x":0.81,"y":-199.97},{"c":128,"x":1.98,"y":-200.42},{"c":128,"x":2.18,"y":-200.98},{"c":128,"x":2.19,"y":-201.99},
{"c":127,"x":-5.89,"y":-205.23},{"c":127,"x":-5.46,"y":-205.35},{"c":127,"x":-3.31,"y":-203.6},{"c":127,"x":-1.45,"y":-201.11},{"c":127,"x":-0.92,"y":-200.18},{"c":127,"x":-0.45,"y":-199.79},{"c":127,"x":0.78,"y":-200.03},{"c":127,"x":1.96,"y":-200.46},{"c":127,"x":2.16,"y":-201.03},{"c":127,"x":2.18,"y":-202.03},
{"c":126,"x":-5.87,"y":-205.35},{"c":126,"x":-5.44,"y":-205.46},{"c":126,"x":-3.31,"y":-203.69},{"c":126,"x":-1.47,"y":-201.18},{"c":126,"x":-0.95,"y":-200.25},{"c":126,"x":-0.48,"y":-199.86},{"c":126,"x":0.75,"y":-200.08},{"c":126,"x":1.93,"y":-200.5},{"c":126,"x":2.14,"y":-201.07},{"c":126,"x":2.16,"y":-202.07},
{"c":125,"x":-5.85,"y":-205.47},{"c":125,"x":-5.42,"y":-205.58},{"c":125,"x":-3.31,"y":-203.78},{"c":125,"x":-1.49,"y":-201.25},{"c":125,"x":-0.99,"y":-200.32},{"c":125,"x":-0.52,"y":-199.93},{"c":125,"x":0.72,"y":-200.14},{"c":125,"x":1.9,"y":-200.55},{"c":125,"x":2.12,"y":-201.11},{"c":125,"x":2.15,"y":-202.11},
{"c":124,"x":-5.83,"y":-205.59},{"c":124,"x":-5.39,"y":-205.7},{"c":124,"x":-3.31,"y":-203.87},{"c":124,"x":-1.51,"y":-201.32},{"c":124,"x":-1.02,"y":-200.39},{"c":124,"x":-0.56,"y":-199.99},{"c":124,"x":0.68,"y":-200.19},{"c":124,"x":1.87,"y":-200.59},{"c":124,"x":2.09,"y":-201.15},{"c":124,"x":2.14,"y":-202.15},
{"c":123,"x":-5.81,"y":-205.71},{"c":123,"x":-5.37,"y":-205.81},{"c":123,"x":-3.3,"y":-203.96},{"c":123,"x":-1.53,"y":-201.39},{"c":123,"x":-1.05,"y":-200.46},{"c":123,"x":-0.59,"y":-200.06},{"c":123,"x":0.65,"y":-200.25},{"c":123,"x":1.84,"y":-200.63},{"c":123,"x":2.07,"y":-201.19},{"c":123,"x":2.12,"y":-202.19},
{"c":122,"x":-5.79,"y":-205.83},{"c":122,"x":-5.35,"y":-205.93},{"c":122,"x":-3.3,"y":-204.05},{"c":122,"x":-1.56,"y":-201.46},{"c":122,"x":-1.08,"y":-200.54},{"c":122,"x":-0.63,"y":-200.13},{"c":122,"x":0.62,"y":-200.3},{"c":122,"x":1.82,"y":-200.67},{"c":122,"x":2.05,"y":-201.24},{"c":122,"x":2.11,"y":-202.23},
{"c":121,"x":-5.77,"y":-205.95},{"c":121,"x":-5.33,"y":-206.04},{"c":121,"x":-3.3,"y":-204.14},{"c":121,"x":-1.58,"y":-201.53},{"c":121,"x":-1.11,"y":-200.61},{"c":121,"x":-0.66,"y":-200.19},{"c":121,"x":0.58,"y":-200.36},{"c":121,"x":1.79,"y":-200.72},{"c":121,"x":2.02,"y":-201.28},{"c":121,"x":2.09,"y":-202.27},
{"c":120,"x":-5.75,"y":-206.07},{"c":120,"x":-5.31,"y":-206.16},{"c":120,"x":-3.3,"y":-204.23},{"c":120,"x":-1.6,"y":-201.6},{"c":120,"x":-1.14,"y":-200.68},{"c":120,"x":-0.7,"y":-200.26},{"c":120,"x":0.55,"y":-200.41},{"c":120,"x":1.76,"y":-200.76},{"c":120,"x":2,"y":-201.32},{"c":120,"x":2.08,"y":-202.31},
{"c":119,"x":-5.72,"y":-206.16},{"c":119,"x":-5.28,"y":-206.25},{"c":119,"x":-3.29,"y":-204.28},{"c":119,"x":-1.62,"y":-201.65},{"c":119,"x":-1.16,"y":-200.73},{"c":119,"x":-0.73,"y":-200.31},{"c":119,"x":0.52,"y":-200.44},{"c":119,"x":1.73,"y":-200.78},
{"c":118,"x":-5.69,"y":-206.26},{"c":118,"x":-5.25,"y":-206.34},{"c":118,"x":-3.28,"y":-204.34},{"c":118,"x":-1.63,"y":-201.7},{"c":118,"x":-1.19,"y":-200.78},{"c":118,"x":-0.76,"y":-200.35},{"c":118,"x":0.49,"y":-200.48},{"c":118,"x":1.71,"y":-200.8},
{"c":117,"x":-5.65,"y":-206.35},{"c":117,"x":-5.21,"y":-206.43},{"c":117,"x":-3.27,"y":-204.4},{"c":117,"x":-1.65,"y":-201.75},{"c":117,"x":-1.21,"y":-200.83},{"c":117,"x":-0.78,"y":-200.4},{"c":117,"x":0.47,"y":-200.51},{"c":117,"x":1.68,"y":-200.82},
{"c":116,"x":-5.62,"y":-206.45},{"c":116,"x":-5.18,"y":-206.52},{"c":116,"x":-3.26,"y":-204.45},{"c":116,"x":-1.66,"y":-201.8},{"c":116,"x":-1.24,"y":-200.88},{"c":116,"x":-0.81,"y":-200.44},{"c":116,"x":0.44,"y":-200.54},{"c":116,"x":1.66,"y":-200.84},
{"c":115,"x":-5.59,"y":-206.54},{"c":115,"x":-5.15,"y":-206.61},{"c":115,"x":-3.25,"y":-204.5},{"c":115,"x":-1.68,"y":-201.85},{"c":115,"x":-1.26,"y":-200.93},{"c":115,"x":-0.84,"y":-200.49},{"c":115,"x":0.41,"y":-200.58},{"c":115,"x":1.63,"y":-200.86},
{"c":114,"x":-5.56,"y":-206.63},{"c":114,"x":-5.12,"y":-206.69},{"c":114,"x":-3.24,"y":-204.54},{"c":114,"x":-1.7,"y":-201.9},{"c":114,"x":-1.28,"y":-200.98},{"c":114,"x":-0.87,"y":-200.54},{"c":114,"x":0.38,"y":-200.61},{"c":114,"x":1.6,"y":-200.88},
{"c":113,"x":-5.53,"y":-206.73},{"c":113,"x":-5.09,"y":-206.78},{"c":113,"x":-3.23,"y":-204.58},{"c":113,"x":-1.71,"y":-201.95},{"c":113,"x":-1.31,"y":-201.03},{"c":113,"x":-0.9,"y":-200.58},{"c":113,"x":0.35,"y":-200.64},{"c":113,"x":1.58,"y":-200.9},
{"c":112,"x":-5.49,"y":-206.82},{"c":112,"x":-5.05,"y":-206.87},{"c":112,"x":-3.22,"y":-204.62},{"c":112,"x":-1.73,"y":-202},{"c":112,"x":-1.33,"y":-201.08},{"c":112,"x":-0.92,"y":-200.63},{"c":112,"x":0.33,"y":-200.67},{"c":112,"x":1.55,"y":-200.92},
{"c":111,"x":-5.46,"y":-206.92},{"c":111,"x":-5.02,"y":-206.96},{"c":111,"x":-3.21,"y":-204.64},{"c":111,"x":-1.74,"y":-202.05},{"c":111,"x":-1.36,"y":-201.13},{"c":111,"x":-0.95,"y":-200.67},{"c":111,"x":0.3,"y":-200.71},{"c":111,"x":1.53,"y":-200.94},
{"c":110,"x":-5.43,"y":-207.01},{"c":110,"x":-4.99,"y":-207.05},{"c":110,"x":-3.2,"y":-204.66},{"c":110,"x":-1.76,"y":-202.1},{"c":110,"x":-1.38,"y":-201.18},{"c":110,"x":-0.98,"y":-200.72},{"c":110,"x":0.27,"y":-200.74},{"c":110,"x":1.5,"y":-200.96},
{"c":109,"x":-5.39,"y":-207.07},{"c":109,"x":-4.95,"y":-207.11},{"c":109,"x":-3.19,"y":-204.7},
{"c":108,"x":-5.35,"y":-207.14},{"c":108,"x":-4.91,"y":-207.17},{"c":108,"x":-3.17,"y":-204.75},
{"c":107,"x":-5.32,"y":-207.2},{"c":107,"x":-4.87,"y":-207.23},{"c":107,"x":-3.16,"y":-204.79},
{"c":106,"x":-5.28,"y":-207.27},{"c":106,"x":-4.83,"y":-207.29},{"c":106,"x":-3.15,"y":-204.84},
{"c":105,"x":-5.24,"y":-207.33},{"c":105,"x":-4.8,"y":-207.35},{"c":105,"x":-3.14,"y":-204.88},
{"c":104,"x":-5.2,"y":-207.39},{"c":104,"x":-4.76,"y":-207.41},{"c":104,"x":-3.12,"y":-204.92},
{"c":103,"x":-5.16,"y":-207.46},{"c":103,"x":-4.72,"y":-207.47},{"c":103,"x":-3.11,"y":-204.97},
{"c":102,"x":-5.13,"y":-207.52},{"c":102,"x":-4.68,"y":-207.53},{"c":102,"x":-3.1,"y":-205.01},
{"c":101,"x":-5.09,"y":-207.59},{"c":101,"x":-4.64,"y":-207.59},{"c":101,"x":-3.08,"y":-205.06},
{"c":100,"x":-5.05,"y":-207.65},{"c":100,"x":-4.6,"y":-207.65},{"c":100,"x":-3.07,"y":-205.1}
]},
"resolve":{"axis":{"x":"independent","y":"independent"}},
"layer":[
{"data":{"name":"circles"},"mark":{"type":"line","strokeWidth":3.5,"interpolate":"monotone","clip":true},
"encoding":{"x":{"field":"x","type":"quantitative","scale":{"domain":[-7.96,7.96],"nice":false,"zero":false},"axis":{"orient":"bottom","values":[-6,-4,-2,0,2,4,6],"title":null,"grid":false,"labelExpr":"toString(datum.value)","labelFont":"Liberation Sans","labelFontSize":17,"labelColor":"#404040","labelPadding":20,"tickSize":-8,"tickColor":"#555555","domainColor":"#6e6e6e","domainWidth":1.5,"zindex":2}},
"y":{"field":"y","type":"quantitative","scale":{"domain":[-208.31,-195.75],"nice":false,"zero":false},"axis":{"orient":"left","values":[-208,-206,-204,-202,-200,-198,-196],"title":null,"grid":false,"labelExpr":"toString(datum.value)","labelFont":"Liberation Sans","labelFontSize":17,"labelColor":"#404040","labelPadding":19,"tickSize":-8,"tickColor":"#555555","domainColor":"#6e6e6e","domainWidth":1.5,"zindex":2}},
"color":{"field":"s","type":"nominal","sort":null,"scale":{"domain":["Pitch Circle","Dedendum Circle","Addendum Circle"],"range":["#0072BD","#D95319","#EDB120"]},"legend":{"orient":"none","legendX":770,"legendY":18,"title":null,"symbolType":"stroke","symbolSize":1444,"symbolStrokeWidth":3.5,"clipHeight":20,"labelFont":"Liberation Sans","labelFontSize":16,"labelColor":"#262626","labelLimit":300,"labelOffset":3,"strokeColor":"#444444","fillColor":"white","padding":4,"rowPadding":2.5,"zindex":3}},"order":{"value":null}}},
{"data":{"name":"grey"},"mark":{"type":"area","orient":"horizontal","color":"black","opacity":0.33,"clip":true},
"encoding":{"y":{"field":"y","type":"quantitative","scale":{"domain":[-208.31,-195.75],"nice":false,"zero":false},"axis":null},"x":{"field":"x","type":"quantitative","scale":{"domain":[-7.96,7.96],"nice":false,"zero":false},"axis":null},"x2":{"field":"x1"},"detail":{"field":"g","type":"nominal"}}},
{"data":{"name":"curves"},"mark":{"type":"line","color":"black","strokeWidth":1.15,"interpolate":"catmull-rom","clip":true},
"encoding":{"x":{"field":"x","type":"quantitative","scale":{"domain":[-7.96,7.96],"nice":false,"zero":false},"axis":null},"y":{"field":"y","type":"quantitative","scale":{"domain":[-208.31,-195.75],"nice":false,"zero":false},"axis":null},"detail":{"field":"c","type":"nominal"},"order":{"value":null}}},
{"data":{"name":"bands"},"mark":{"type":"area","orient":"horizontal","color":"black","clip":true},
"encoding":{"y":{"field":"y","type":"quantitative","scale":{"domain":[-208.31,-195.75],"nice":false,"zero":false},"axis":null},"x":{"field":"x","type":"quantitative","scale":{"domain":[-7.96,7.96],"nice":false,"zero":false},"axis":null},"x2":{"field":"x1"},"detail":{"field":"g","type":"nominal"}}},
{"data":{"name":"red"},"mark":{"type":"line","color":"#ff0000","strokeWidth":1.3,"interpolate":"catmull-rom","clip":true},
"encoding":{"x":{"field":"x","type":"quantitative","scale":{"domain":[-7.96,7.96],"nice":false,"zero":false},"axis":{"orient":"top","values":[-6,-4,-2,0,2,4,6],"title":null,"grid":false,"labels":false,"tickSize":-8,"tickColor":"#555555","domainColor":"#6e6e6e","domainWidth":1.5,"zindex":2}},"y":{"field":"y","type":"quantitative","scale":{"domain":[-208.31,-195.75],"nice":false,"zero":false},"axis":{"orient":"right","values":[-208,-206,-204,-202,-200,-198,-196],"title":null,"grid":false,"labels":false,"tickSize":-8,"tickColor":"#555555","domainColor":"#6e6e6e","domainWidth":1.5,"zindex":2}},"order":{"value":null}}}
]}
